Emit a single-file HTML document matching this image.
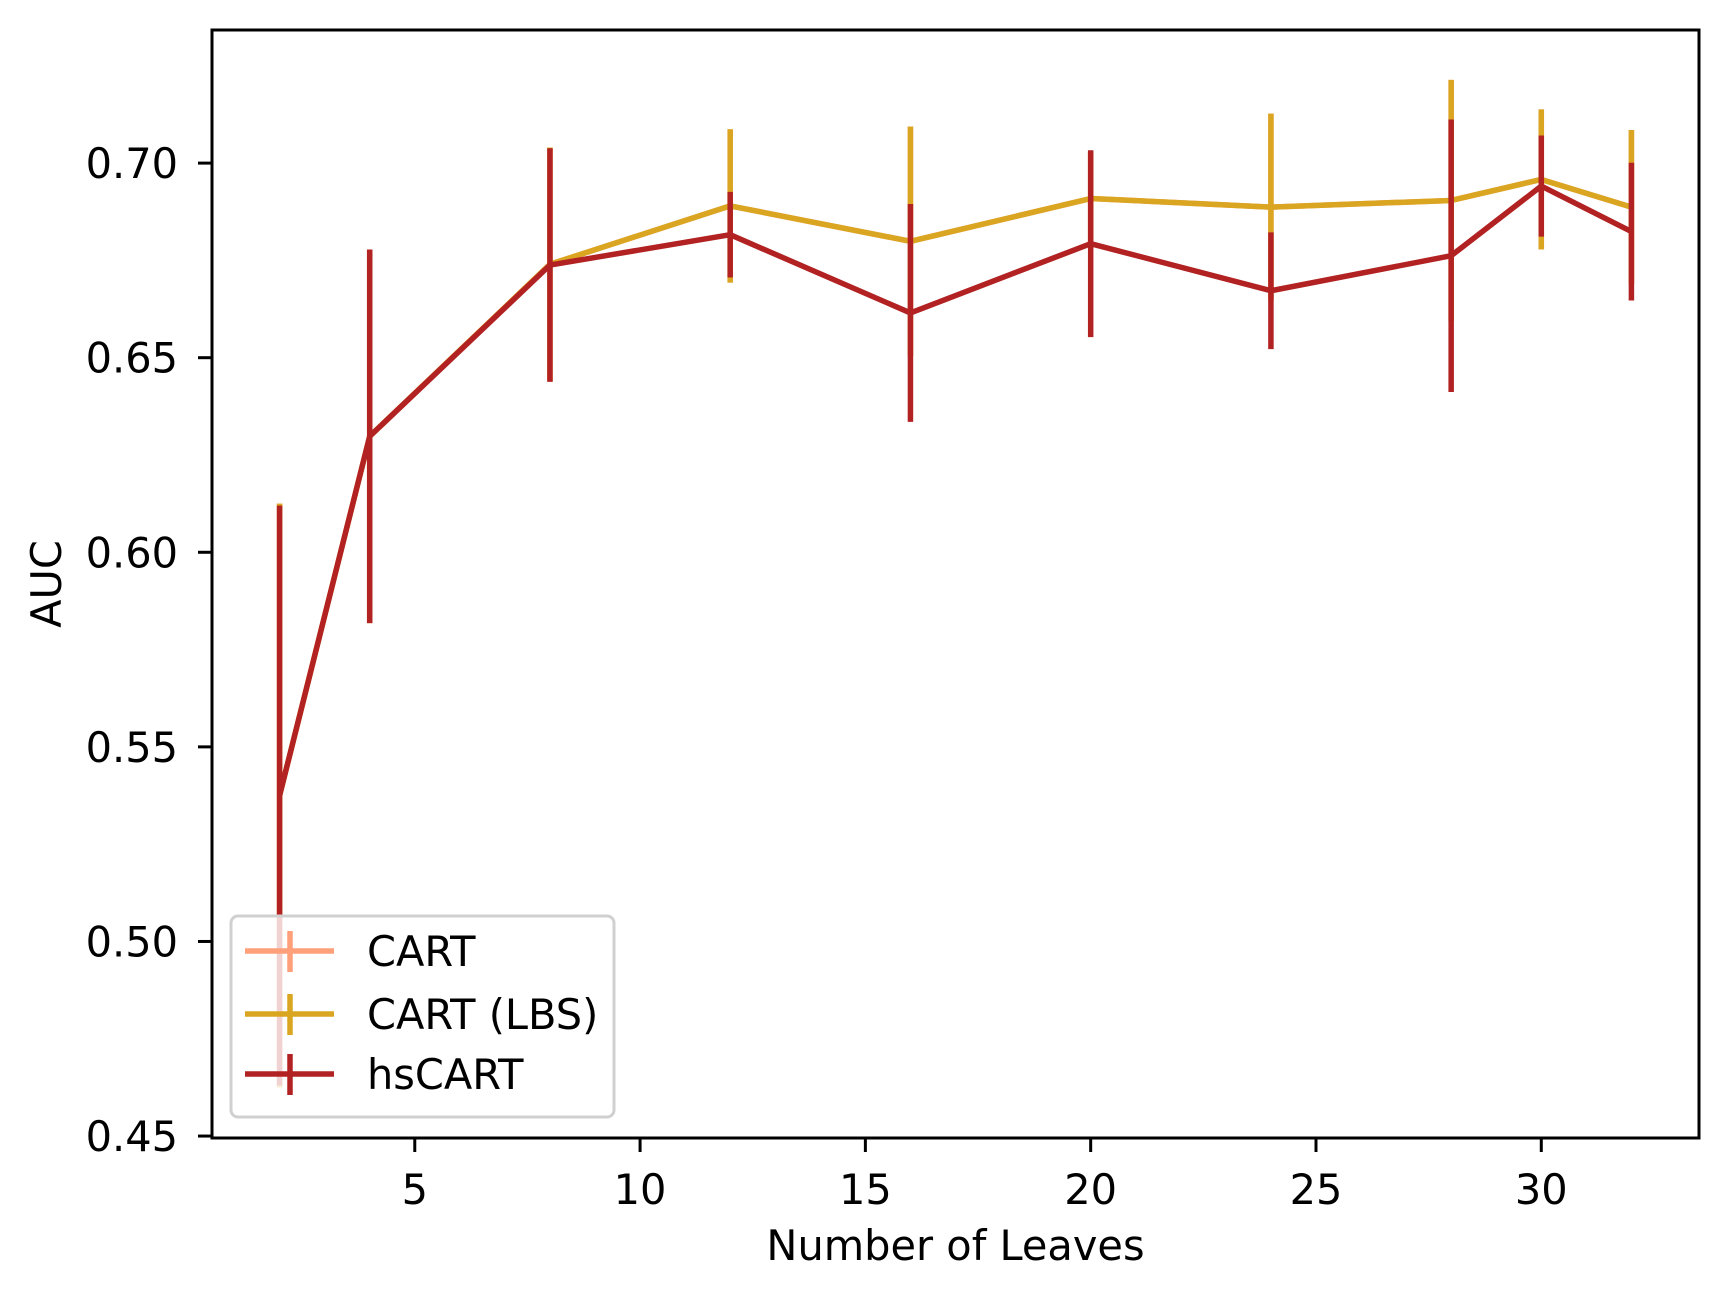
<!DOCTYPE html>
<html><head><meta charset="utf-8"><style>
html,body{margin:0;padding:0;background:#fff;}
svg{display:block;font-family:"DejaVu Sans","Liberation Sans",sans-serif;}
</style></head><body>
<svg id="chart" width="1728" height="1298" viewBox="0 0 1728 1298">
<rect width="1728" height="1298" fill="#fff"/>
<g id="marks"></g>
<g id="axes"></g>
<g id="legend"></g>
</svg>
<script>
const leaves = [2, 4, 8, 12, 16, 20, 24, 28, 30, 32];
const cartMean = [0.5375, 0.6298, 0.674, 0.689, 0.6799, 0.6909, 0.6887, 0.6904, 0.6958, 0.6887];
const cartErr = [0.075, 0.048, 0.030, 0.0197, 0.0295, 0.012, 0.024, 0.031, 0.018, 0.0198];
const lbsMean = [0.5375, 0.6298, 0.674, 0.689, 0.6799, 0.6909, 0.6887, 0.6904, 0.6958, 0.6887];
const lbsErr = [0.075, 0.048, 0.030, 0.0197, 0.0295, 0.012, 0.024, 0.031, 0.018, 0.0198];
const hsMean = [0.5375, 0.6298, 0.6738, 0.6816, 0.6615, 0.6793, 0.6672, 0.6762, 0.6941, 0.6824];
const hsErr = [0.0745, 0.048, 0.030, 0.011, 0.028, 0.024, 0.015, 0.035, 0.013, 0.0177];
const xTicks = [5, 10, 15, 20, 25, 30];
const yTicks = [0.45, 0.50, 0.55, 0.60, 0.65, 0.70];
const seriesNames = ["CART", "CART (LBS)", "hsCART"];

const NS = "http://www.w3.org/2000/svg";
const L = 212, R = 1699, T = 30, B = 1138;
const X0 = 0.5, X1 = 33.5, Y0 = 0.4495, Y1 = 0.7342;
const sx = v => L + (v - X0) / (X1 - X0) * (R - L);
const sy = v => B - (v - Y0) / (Y1 - Y0) * (B - T);
function mk(tag, attrs, parent) {
  const e = document.createElementNS(NS, tag);
  for (const k in attrs) e.setAttribute(k, attrs[k]);
  parent.appendChild(e);
  return e;
}
const marks = document.getElementById('marks');
const axes = document.getElementById('axes');
const legend = document.getElementById('legend');
const colors = ["#FFA07A", "#DAA520", "#B22222"];
const means = [cartMean, lbsMean, hsMean];
const errs = [cartErr, lbsErr, hsErr];
const lw = 5.5;
const FS = 41.5;
for (let s = 0; s < 3; s++) {
  const g = mk('g', {}, marks);
  
  
  for (let i = 0; i < leaves.length; i++) {
    const eb = mk('line', {x1: sx(leaves[i]), x2: sx(leaves[i]), y1: sy(means[s][i] - errs[s][i]), y2: sy(means[s][i] + errs[s][i]), stroke: colors[s], 'stroke-width': lw}, g);
    
    
  }
  const pts = leaves.map((x, i) => sx(x) + ',' + sy(means[s][i])).join(' ');
  const pl = mk('polyline', {points: pts, fill: 'none', stroke: colors[s], 'stroke-width': lw, 'stroke-linejoin': 'round'}, g);
  
  
}
const fr = mk('rect', {x: L, y: T, width: R - L, height: B - T, fill: 'none', stroke: '#000', 'stroke-width': 3}, axes);


xTicks.forEach(v => {
  const x = sx(v);
  const t = mk('line', {x1: x, x2: x, y1: B, y2: B + 14, stroke: '#000', 'stroke-width': 3}, axes);
  
  
  const tx = mk('text', {x: x, y: 1204, 'text-anchor': 'middle', 'font-size': FS}, axes);
  tx.textContent = String(v);
  
  
});
yTicks.forEach(v => {
  const y = sy(v);
  const t = mk('line', {x1: L - 14, x2: L, y1: y, y2: y, stroke: '#000', 'stroke-width': 3}, axes);
  
  
  const tx = mk('text', {x: 178, y: y + 15, 'text-anchor': 'end', 'font-size': FS}, axes);
  tx.textContent = v.toFixed(2);
  
  
});
const xl = mk('text', {x: (L + R) / 2, y: 1260, 'text-anchor': 'middle', 'font-size': FS}, axes);
xl.textContent = 'Number of Leaves';


const yl = mk('text', {x: 0, y: 0, 'text-anchor': 'middle', 'font-size': FS, transform: 'translate(61,' + ((T + B) / 2) + ') rotate(-90)'}, axes);
yl.textContent = 'AUC';


const box = mk('rect', {x: 231, y: 916, width: 383, height: 201, rx: 7, fill: 'rgba(255,255,255,0.8)', stroke: '#d0d0d0', 'stroke-width': 3}, legend);


const ly = [951, 1014, 1074];
for (let s = 0; s < 3; s++) {
  const g = mk('g', {}, legend);
  
  
  mk('line', {x1: 245, x2: 334, y1: ly[s], y2: ly[s], stroke: colors[s], 'stroke-width': lw}, g);
  mk('line', {x1: 290, x2: 290, y1: ly[s] - 20, y2: ly[s] + 21, stroke: colors[s], 'stroke-width': lw}, g);
  const t = mk('text', {x: 367, y: ly[s] + 15, 'font-size': FS}, g);
  t.textContent = seriesNames[s];
  
  
}
</script>
</body></html>
